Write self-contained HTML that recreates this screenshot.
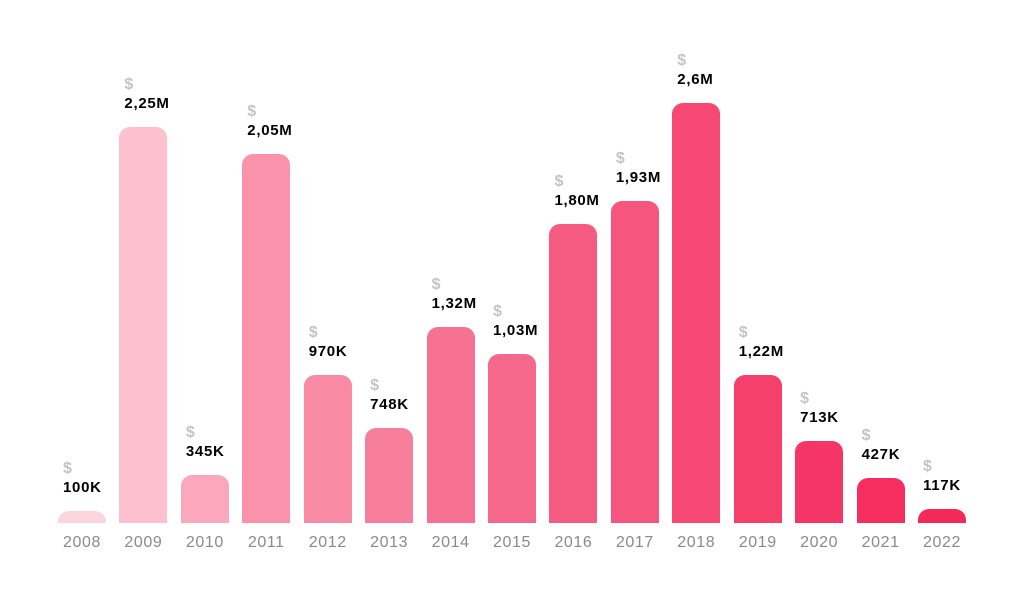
<!DOCTYPE html>
<html><head><meta charset="utf-8"><style>
body{margin:0;background:#fff;}
#c{position:relative;width:1024px;height:605px;overflow:hidden;font-family:"Liberation Sans",sans-serif;}
.b{position:absolute;width:48px;border-radius:11px 11px 0 0;}
.d{position:absolute;font-size:16px;font-weight:bold;color:#c4c4c4;line-height:16px;}
.v{position:absolute;font-size:15px;font-weight:bold;color:#000;line-height:16px;letter-spacing:0.7px;}
.y{position:absolute;top:534px;width:60px;text-align:center;font-size:16px;color:#8a8a8a;line-height:18px;letter-spacing:0.6px;}
</style></head><body><div id="c">
<script>
var tops=[511,127,475,154,375,428,327,354,224,201,103,375,441,478,509];
var vals=["100K","2,25M","345K","2,05M","970K","748K","1,32M","1,03M","1,80M","1,93M","2,6M","1,22M","713K","427K","117K"];
var cols=["#fcd4de","#fcc0ce","#fba8bc","#fa92ab","#f98aa4","#f87f9b","#f77192","#f6688b","#f65c82","#f6557d","#f64872","#f5406b","#f53565","#f52e5f","#f5285a"];
var h="";
for(var i=0;i<15;i++){
 var x=58+i*61.43, t=tops[i];
 h+='<div class="b" style="left:'+x+'px;top:'+t+'px;height:'+(523-t)+'px;background:'+cols[i]+'"></div>';
 h+='<div class="d" style="left:'+(x+5)+'px;top:'+(t-50)+'px">$</div>';
 h+='<div class="v" style="left:'+(x+5)+'px;top:'+(t-31)+'px">'+vals[i]+'</div>';
 h+='<div class="y" style="left:'+(x-6)+'px">'+(2008+i)+'</div>';
}
document.getElementById("c").innerHTML=h;
</script>
</div></body></html>
